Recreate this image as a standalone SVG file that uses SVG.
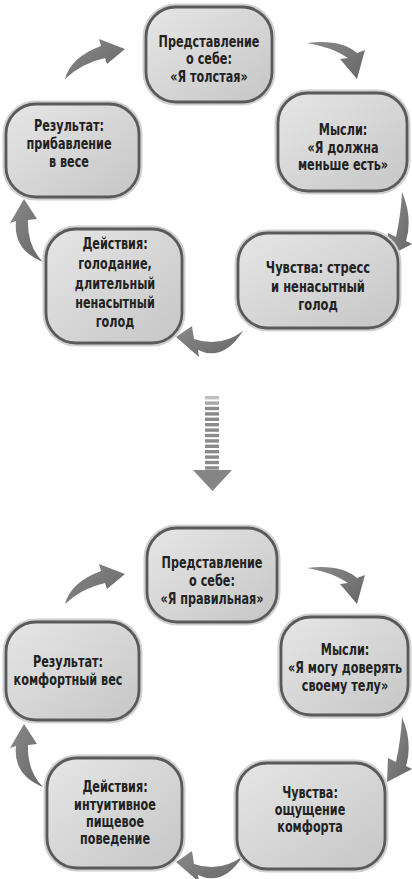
<svg xmlns="http://www.w3.org/2000/svg" width="412" height="879" viewBox="0 0 412 879">
<defs>
<linearGradient id="boxfill" x1="0" y1="0" x2="1" y2="1">
<stop offset="0" stop-color="#e6e6e6"/>
<stop offset="1" stop-color="#c6c6c6"/>
</linearGradient>
<linearGradient id="arrfill" x1="0" y1="0" x2="1" y2="1">
<stop offset="0" stop-color="#8a8a8a"/>
<stop offset="1" stop-color="#666666"/>
</linearGradient>
<style>
.halo{fill:none;stroke:#d0d0d0;stroke-width:7}
.box{fill:url(#boxfill);stroke:#5a5a5a;stroke-width:2.8}
.t{font-family:"DejaVu Sans Condensed","Liberation Sans",sans-serif;font-weight:bold;font-size:16px;fill:#222;text-anchor:middle}
.arr{fill:url(#arrfill)}
.bar{fill:#8a8a8a}
</style>
</defs>
<rect width="412" height="879" fill="#ffffff"/>

<g id="connectors">
<g id="top-arrows">
<path class="arr" d="M65,79 Q71,57 101,46 L99,39 L125,49 L107,64 L105,58 Q82,63 65,79 Z"/>
<path class="arr" d="M307,43 Q341,39 357,53 L365,50 L357,79 L340,59 L348,58 Q332,47 307,43 Z"/>
<path class="arr" d="M402,192 Q413,218 406,241 L412,244 L387,257 L388,233 L396,237 Q401,214 402,192 Z"/>
<path class="arr" d="M243,331 Q223,362 198,350 L199,357 L176,337 L192,326 L194,339 Q220,348 243,331 Z"/>
<path class="arr" d="M43,262 Q13,250 16,221 L10,223 L24,199 L37,219 L28,220 Q27,246 43,262 Z"/>
</g>
<g id="bottom-arrows" transform="translate(0,525)">
<path class="arr" d="M65,79 Q71,57 101,46 L99,39 L125,49 L107,64 L105,58 Q82,63 65,79 Z"/>
<path class="arr" d="M307,43 Q341,39 357,53 L365,50 L357,79 L340,59 L348,58 Q332,47 307,43 Z"/>
<path class="arr" d="M402,192 Q413,218 406,241 L412,244 L387,257 L388,233 L396,237 Q401,214 402,192 Z"/>
<path class="arr" d="M243,331 Q223,362 198,350 L199,357 L176,337 L192,326 L194,339 Q220,348 243,331 Z"/>
<path class="arr" d="M43,262 Q13,250 16,221 L10,223 L24,199 L37,219 L28,220 Q27,246 43,262 Z"/>
</g>
<g id="transition-arrow">
<rect class="bar" x="205" y="396" width="14" height="3.4" opacity="0.55"/>
<rect class="bar" x="205" y="401.4" width="14" height="3.4" opacity="0.75"/>
<rect class="bar" x="205" y="406.8" width="14" height="3.4"/>
<rect class="bar" x="205" y="412.2" width="14" height="3.4"/>
<rect class="bar" x="205" y="417.6" width="14" height="3.4"/>
<rect class="bar" x="205" y="423" width="14" height="3.4"/>
<rect class="bar" x="205" y="428.4" width="14" height="3.4"/>
<rect class="bar" x="205" y="433.8" width="14" height="3.4"/>
<rect class="bar" x="205" y="439.2" width="14" height="3.4"/>
<rect class="bar" x="205" y="444.6" width="14" height="3.4"/>
<rect class="bar" x="205" y="450" width="14" height="3.4"/>
<rect class="bar" x="205" y="455.4" width="14" height="3.4"/>
<rect class="bar" x="205" y="460.8" width="14" height="3.4"/>
<rect class="bar" x="205" y="466.2" width="14" height="3.4"/>
<polygon points="193,470 232,470 212.5,491" fill="#858585"/>
</g>
</g>

<g id="n1">
<rect class="halo" x="146" y="7" width="126" height="95" rx="30"/>
<rect class="box" x="146" y="7" width="126" height="95" rx="30"/>
<g transform="translate(209,0) scale(0.78,1)">
<text class="t" x="0" y="47">Представление</text>
<text class="t" x="0" y="64.5">о себе:</text>
<text class="t" x="0" y="82">«Я толстая»</text>
</g>
</g>
<g id="n2">
<rect class="halo" x="278" y="93" width="129" height="98" rx="30"/>
<rect class="box" x="278" y="93" width="129" height="98" rx="30"/>
<g transform="translate(343,0) scale(0.78,1)">
<text class="t" x="0" y="135">Мысли:</text>
<text class="t" x="0" y="153">«Я должна</text>
<text class="t" x="0" y="170">меньше есть»</text>
</g>
</g>
<g id="n3">
<rect class="halo" x="6" y="104" width="133" height="93" rx="30"/>
<rect class="box" x="6" y="104" width="133" height="93" rx="30"/>
<g transform="translate(69,0) scale(0.78,1)">
<text class="t" x="0" y="131">Результат:</text>
<text class="t" x="0" y="149">прибавление</text>
<text class="t" x="0" y="167">в весе</text>
</g>
</g>
<g id="n4">
<rect class="halo" x="238" y="233" width="160" height="95" rx="30"/>
<rect class="box" x="238" y="233" width="160" height="95" rx="30"/>
<g transform="translate(318,0) scale(0.8,1)">
<text class="t" x="0" y="273">Чувства: стресс</text>
<text class="t" x="0" y="292">и ненасытный</text>
<text class="t" x="0" y="310">голод</text>
</g>
</g>
<g id="n5">
<rect class="halo" x="46" y="229" width="136" height="114" rx="30"/>
<rect class="box" x="46" y="229" width="136" height="114" rx="30"/>
<g transform="translate(115,0) scale(0.78,1)">
<text class="t" x="0" y="249">Действия:</text>
<text class="t" x="0" y="269">голодание,</text>
<text class="t" x="0" y="289">длительный</text>
<text class="t" x="0" y="308">ненасытный</text>
<text class="t" x="0" y="327">голод</text>
</g>
</g>

<g id="m1">
<rect class="halo" x="147" y="528" width="130" height="94" rx="30"/>
<rect class="box" x="147" y="528" width="130" height="94" rx="30"/>
<g transform="translate(212,0) scale(0.78,1)">
<text class="t" x="0" y="568">Представление</text>
<text class="t" x="0" y="586">о себе:</text>
<text class="t" x="0" y="604">«Я правильная»</text>
</g>
</g>
<g id="m2">
<rect class="halo" x="281" y="617" width="127" height="98" rx="30"/>
<rect class="box" x="281" y="617" width="127" height="98" rx="30"/>
<g transform="translate(345,0) scale(0.78,1)">
<text class="t" x="0" y="655">Мысли:</text>
<text class="t" x="0" y="673">«Я могу доверять</text>
<text class="t" x="0" y="691">своему телу»</text>
</g>
</g>
<g id="m3">
<rect class="halo" x="6" y="622" width="133" height="98" rx="30"/>
<rect class="box" x="6" y="622" width="133" height="98" rx="30"/>
<g transform="translate(68,0) scale(0.78,1)">
<text class="t" x="0" y="667">Результат:</text>
<text class="t" x="0" y="685">комфортный вес</text>
</g>
</g>
<g id="m4">
<rect class="halo" x="237" y="763" width="148" height="106" rx="30"/>
<rect class="box" x="237" y="763" width="148" height="106" rx="30"/>
<g transform="translate(310,0) scale(0.78,1)">
<text class="t" x="0" y="798">Чувства:</text>
<text class="t" x="0" y="815">ощущение</text>
<text class="t" x="0" y="832">комфорта</text>
</g>
</g>
<g id="m5">
<rect class="halo" x="47" y="758" width="135" height="110" rx="30"/>
<rect class="box" x="47" y="758" width="135" height="110" rx="30"/>
<g transform="translate(115,0) scale(0.78,1)">
<text class="t" x="0" y="792">Действия:</text>
<text class="t" x="0" y="810">интуитивное</text>
<text class="t" x="0" y="827">пищевое</text>
<text class="t" x="0" y="844">поведение</text>
</g>
</g>
</svg>
